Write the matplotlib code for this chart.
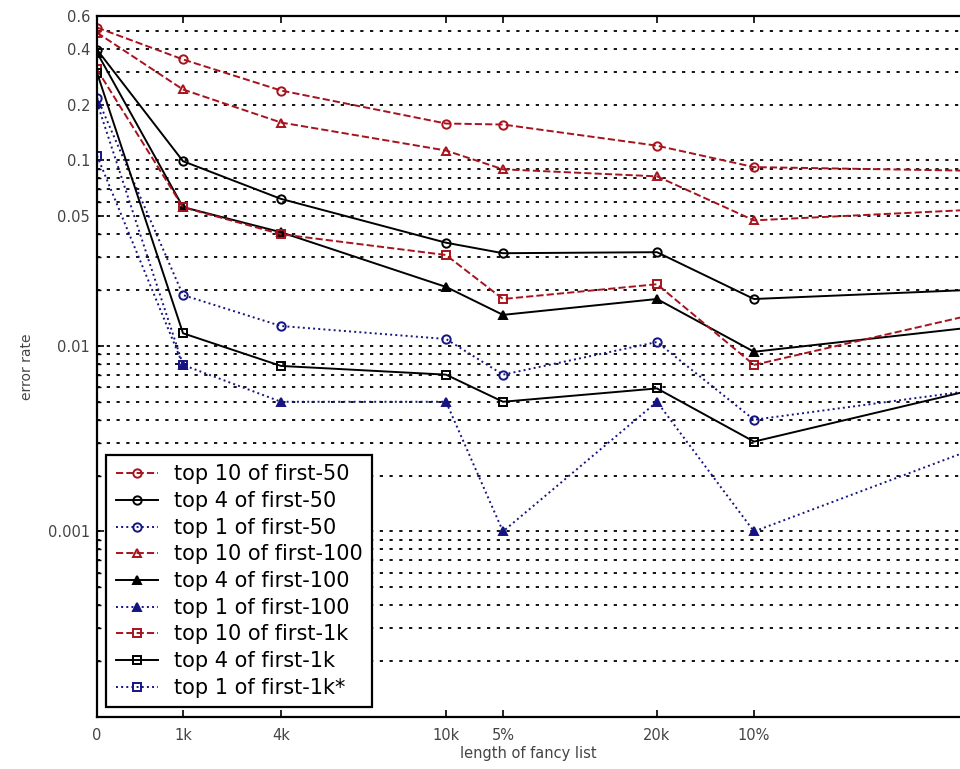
import numpy as np
import matplotlib
matplotlib.use("Agg")
import matplotlib.pyplot as plt
from matplotlib.ticker import FixedLocator, LogLocator, NullFormatter

plt.rcParams['font.family'] = ['DejaVu Sans']

# =========================
# data (x = position along the fancy-list axis, last point lies past the edge)

x_pos = [0, 86, 184, 349, 406, 560, 657, 870]
x_labels = ["0", "1k", "4k", "10k", "5%", "20k", "10%"]

nan = np.nan
top10_f50 = [0.52, 0.35, 0.238, 0.158, 0.156, 0.12, 0.092, 0.088]
top4_f50 = [0.395, 0.099, 0.062, 0.036, 0.0316, 0.032, 0.0179, 0.0200]
top1_f50 = [0.218, 0.0188, 0.0128, 0.0109, 0.0070, 0.0105, 0.0040, 0.0057]
top10_f100 = [0.488, 0.241, 0.160, 0.113, 0.0895, 0.082, 0.0475, 0.054]
top4_f100 = [0.381, 0.056, 0.041, 0.0208, 0.0147, 0.0179, 0.0093, 0.0125]
top1_f100 = [0.205, 0.0079, 0.005, 0.005, 0.001, 0.005, 0.001, 0.0027]
top10_f1k = [0.309, 0.0559, 0.040, 0.0309, 0.0179, 0.0215, 0.0079, 0.0145]
top4_f1k = [0.297, 0.0117, 0.0078, 0.0070, 0.0050, 0.0059, 0.00305, 0.0057]
top1_f1k = [0.106, 0.0079, nan, nan, nan, nan, nan, nan]

labels = ["top 10 of first-50", "top 4 of first-50", "top 1 of first-50",
          "top 10 of first-100", "top 4 of first-100", "top 1 of first-100",
          "top 10 of first-1k", "top 4 of first-1k", "top 1 of first-1k*"]

# =========================
# plot

red = '#a8121c'
blue = '#141482'

fig = plt.figure(figsize=(9.6, 7.69), dpi=100)
ax = fig.add_axes([97/960, 52/769, 1 - 97/960, 701/769])

styles = [
    (top10_f50, red, '--', 'o', 'none'),
    (top4_f50, 'black', '-', 'o', 'none'),
    (top1_f50, blue, ':', 'o', 'none'),
    (top10_f100, red, '--', '^', 'none'),
    (top4_f100, 'black', '-', '^', 'black'),
    (top1_f100, blue, ':', '^', blue),
    (top10_f1k, red, '--', 's', 'none'),
    (top4_f1k, 'black', '-', 's', 'none'),
    (top1_f1k, blue, ':', 's', 'none'),
]

for (vals, c, ls, m, fc), lab in zip(styles, labels):
    ax.plot(x_pos, vals, color=c, linestyle=ls, marker=m, markerfacecolor=fc,
            markeredgecolor=c, markersize=6, markeredgewidth=1.4, linewidth=1.4,
            label=lab)

ax.set_yscale('log')
ax.set_ylim(1e-4, 0.6)
ax.set_xlim(0, 863)

ax.xaxis.set_major_locator(FixedLocator(x_pos[:-1]))
ax.set_xticklabels(x_labels)
ax.set_yticks([0.001, 0.01, 0.05, 0.1, 0.2, 0.4, 0.6])
ax.set_yticklabels(["0.001", "0.01", "0.05", "0.1", "0.2", "0.4", "0.6"])
ax.yaxis.set_minor_locator(LogLocator(base=10, subs=np.arange(2, 10)))
ax.yaxis.set_minor_formatter(NullFormatter())

ax.tick_params(axis='both', which='major', direction='in', length=5,
               width=1.2, labelsize=10.5, labelcolor='#444444', top=True)
ax.tick_params(axis='x', which='major', pad=8)
ax.tick_params(axis='y', which='major', pad=5)
ax.tick_params(axis='y', which='minor', direction='in', length=3, width=1.0)

ax.grid(True, axis='y', which='both', color='black',
        linestyle=(0, (1.8, 3.6)), linewidth=1.3)

for s in ['left', 'top', 'bottom']:
    ax.spines[s].set_linewidth(1.6)
ax.spines['right'].set_visible(False)

ax.set_xlabel("length of fancy list", fontsize=10.5, color='#444444', labelpad=2)
ax.set_ylabel("error rate", fontsize=10, color='#444444', labelpad=10)

leg = ax.legend(loc='lower left', bbox_to_anchor=(0.011, 0.014), borderaxespad=0,
                prop={'family': 'DejaVu Sans', 'size': 15},
                labelspacing=0.32, handlelength=2.0, handletextpad=0.8,
                borderpad=0.45, fancybox=False, framealpha=1, edgecolor='black')
leg.get_frame().set_linewidth(1.6)

plt.savefig("out.png", dpi=100)
